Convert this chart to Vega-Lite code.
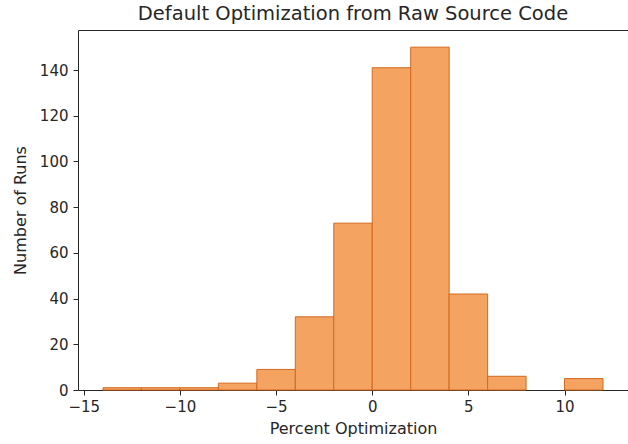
{
  "$schema": "https://vega.github.io/schema/vega-lite/v6.json",
  "width": 550,
  "height": 360,
  "autosize": {"type": "none"},
  "padding": {"left": 78, "top": 30, "right": 0, "bottom": 54},
  "background": "white",
  "title": {
    "text": "Default Optimization from Raw Source Code",
    "font": "DejaVu Sans",
    "fontSize": 19.5,
    "fontWeight": "normal",
    "color": "#262626",
    "offset": 6
  },
  "config": {
    "view": {"stroke": "#262626", "strokeWidth": 1},
    "axis": {
      "labelFont": "DejaVu Sans",
      "titleFont": "DejaVu Sans",
      "labelFontSize": 15,
      "titleFontSize": 16,
      "titleFontWeight": "normal",
      "labelColor": "#262626",
      "titleColor": "#262626",
      "tickColor": "#262626",
      "tickSize": 5,
      "domain": false,
      "grid": false
    }
  },
  "data": {
    "values": [
      {"bin_start": -14, "bin_end": -12, "count": 1},
      {"bin_start": -12, "bin_end": -10, "count": 1},
      {"bin_start": -10, "bin_end": -8, "count": 1},
      {"bin_start": -8, "bin_end": -6, "count": 3},
      {"bin_start": -6, "bin_end": -4, "count": 9},
      {"bin_start": -4, "bin_end": -2, "count": 32},
      {"bin_start": -2, "bin_end": 0, "count": 73},
      {"bin_start": 0, "bin_end": 2, "count": 141},
      {"bin_start": 2, "bin_end": 4, "count": 150},
      {"bin_start": 4, "bin_end": 6, "count": 42},
      {"bin_start": 6, "bin_end": 8, "count": 6},
      {"bin_start": 8, "bin_end": 10, "count": 0},
      {"bin_start": 10, "bin_end": 12, "count": 5}
    ]
  },
  "transform": [{"filter": "datum.count > 0"}],
  "mark": {"type": "bar", "fill": "#f4a460", "stroke": "#d2691e", "strokeWidth": 1, "opacity": 1},
  "encoding": {
    "x": {
      "field": "bin_start",
      "type": "quantitative",
      "scale": {"domain": [-15.3, 13.3], "nice": false, "zero": false},
      "axis": {"values": [-15, -10, -5, 0, 5, 10], "title": "Percent Optimization", "titlePadding": 6, "labelPadding": 4}
    },
    "x2": {"field": "bin_end"},
    "y": {
      "field": "count",
      "type": "quantitative",
      "scale": {"domain": [0, 157.5], "nice": false},
      "axis": {"values": [0, 20, 40, 60, 80, 100, 120, 140], "title": "Number of Runs", "titlePadding": 11, "labelPadding": 5}
    },
    "y2": {"datum": 0}
  }
}
